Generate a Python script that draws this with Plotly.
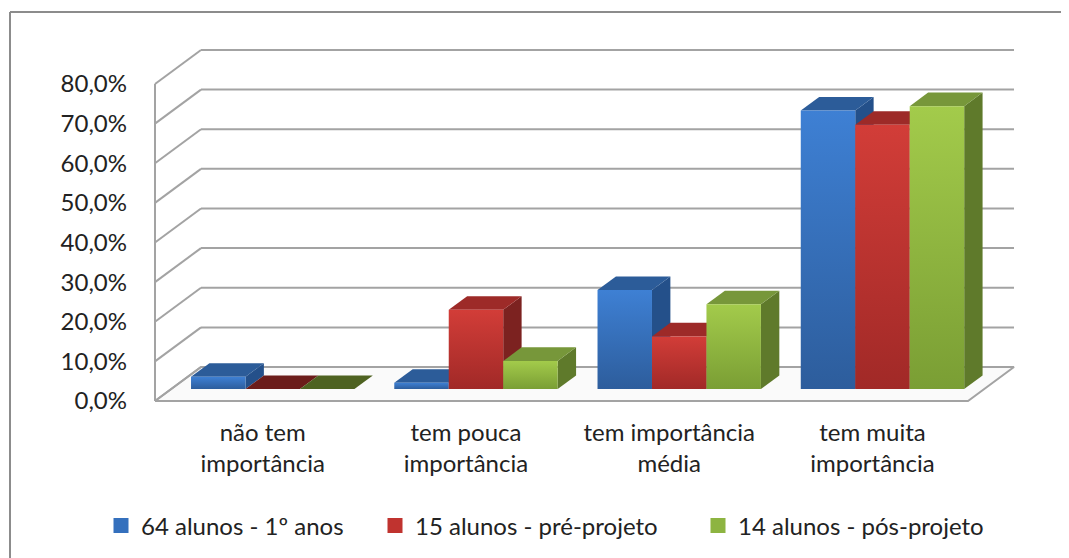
import plotly.graph_objects as go

# ---------------- data ----------------
categories = ["não tem<br>importância", "tem pouca<br>importância",
              "tem importância<br>média", "tem muita<br>importância"]
series_names = ["64 alunos - 1º anos", "15 alunos - pré-projeto", "14 alunos - pós-projeto"]
blue_values = [3.1, 1.6, 25.0, 70.3]
red_values = [0.0, 20.0, 13.3, 66.7]
green_values = [0.0, 7.1, 21.4, 71.4]
y_ticks = [0, 10, 20, 30, 40, 50, 60, 70, 80]
y_tick_labels = ["0,0%", "10,0%", "20,0%", "30,0%", "40,0%", "50,0%", "60,0%", "70,0%", "80,0%"]

# ---------------- style / geometry ----------------
W, H = 1069, 558
PAGE_OFF = 8             # page body margin of the rendered html
FONT = "Lato, 'Liberation Sans', sans-serif"
TEXT_COLOR = "#222222"
GRID = "#A3A3A3"

PX_CAT = 203.25          # pixels per category on the front plane
PX_PCT = 3.9625          # pixels per percent
DX = 46 / PX_CAT         # depth offset (x, data units)
DY = 34 / PX_PCT         # depth offset (y, data units)
X0, X1 = -0.5, 3.5
PAD = 3
x_range = [X0 - PAD / PX_CAT, X1 + DX + PAD / PX_CAT]
y_range = [0 - PAD / PX_PCT, 80 + DY + PAD / PX_PCT]
ML = 155 - PAGE_OFF - PAD
MT = 50 - PAGE_OFF - PAD
plot_w = (x_range[1] - x_range[0]) * PX_CAT
plot_h = (y_range[1] - y_range[0]) * PX_PCT
MR = W - ML - plot_w
MB = H - MT - plot_h

BAR_W = 0.268
T_FRONT, T_BACK = 0.35, 0.75

styles = [
    dict(light="#3E80D4", dark="#2D5D9C", top="#2C5C99", side="#24508A", flat="#2C5C99", legend="#3470BD"),
    dict(light="#D23D38", dark="#A12927", top="#9D2A28", side="#7C2220", flat="#6B1C1A", legend="#C0332F"),
    dict(light="#A3CB4B", dark="#7A9E34", top="#77973A", side="#5F7A2B", flat="#4E6221", legend="#8DB441"),
]
values_by_series = [blue_values, red_values, green_values]


def proj(x, v, t):
    return x + t * DX, v + t * DY


def poly(pts):
    xs = [p[0] for p in pts] + [pts[0][0]]
    ys = [p[1] for p in pts] + [pts[0][1]]
    return xs, ys


fig = go.Figure()

# floor
fx, fy = poly([proj(X0, 0, 0), proj(X1, 0, 0), proj(X1, 0, 1), proj(X0, 0, 1)])
fig.add_trace(go.Scatter(x=fx, y=fy, mode="lines", fill="toself", fillcolor="#FAFAFA",
                         line=dict(color=GRID, width=2), hoverinfo="skip", showlegend=False))

# back wall gridlines + left wall diagonals + front axis
gx, gy = [], []
for v in y_ticks:
    a = proj(X0, v, 1)
    b = proj(X1, v, 1)
    gx += [a[0], b[0], None]
    gy += [a[1], b[1], None]
    c = proj(X0, v, 0)
    gx += [c[0], a[0], None]
    gy += [c[1], a[1], None]
gx += [X0, X0, None]
gy += [0, y_ticks[-1], None]
fig.add_trace(go.Scatter(x=gx, y=gy, mode="lines", line=dict(color=GRID, width=2),
                         hoverinfo="skip", showlegend=False))

# bars
n_series = len(values_by_series)
for c in range(len(categories)):
    for s in range(n_series):
        v = values_by_series[s][c]
        st = styles[s]
        xl = c + (s - n_series / 2) * BAR_W
        xr = xl + BAR_W
        # side face
        if v > 0:
            sx, sy = poly([proj(xr, 0, T_FRONT), proj(xr, 0, T_BACK), proj(xr, v, T_BACK), proj(xr, v, T_FRONT)])
            fig.add_trace(go.Scatter(x=sx, y=sy, mode="lines", fill="toself", fillcolor=st["side"],
                                     line=dict(width=0), hoverinfo="skip", showlegend=False))
        # top face
        tx, ty = poly([proj(xl, v, T_FRONT), proj(xr, v, T_FRONT), proj(xr, v, T_BACK), proj(xl, v, T_BACK)])
        fig.add_trace(go.Scatter(x=tx, y=ty, mode="lines", fill="toself",
                                 fillcolor=st["top"] if v > 0 else st["flat"],
                                 line=dict(width=0), hoverinfo="skip", showlegend=False))
        # front face
        if v > 0:
            px_, py_ = poly([proj(xl, 0, T_FRONT), proj(xr, 0, T_FRONT), proj(xr, v, T_FRONT), proj(xl, v, T_FRONT)])
            fig.add_trace(go.Scatter(x=px_, y=py_, mode="lines", fill="toself",
                                     fillgradient=dict(type="vertical",
                                                       colorscale=[[0, st["dark"]], [1, st["light"]]]),
                                     line=dict(width=0), name=series_names[s],
                                     hovertemplate=f"{series_names[s]}: {v:.1f}%<extra></extra>",
                                     showlegend=False))

# legend-only entries (three separately placed legends)
legend_keys = ["legend", "legend2", "legend3"]
legend_px = [93, 367, 690]
for s in range(n_series):
    fig.add_trace(go.Scatter(x=[None], y=[None], mode="markers", name=series_names[s],
                             marker=dict(symbol="square", size=15, color=styles[s]["legend"],
                                         line=dict(width=0)),
                             legend=legend_keys[s], showlegend=True))

legend_common = dict(orientation="h", xref="container", yref="container",
                     xanchor="left", yanchor="middle", bgcolor="rgba(0,0,0,0)",
                     font=dict(family=FONT, size=24, color=TEXT_COLOR), itemsizing="trace")

layout_legends = {}
for k, pxl in zip(legend_keys, legend_px):
    layout_legends[k] = dict(legend_common, x=pxl / W, y=1 - (526 - PAGE_OFF) / H)


def paper_x(px):
    return (px - PAGE_OFF - ML) / plot_w


def paper_y(py):
    return 1 - (py - PAGE_OFF - MT) / plot_h


# chart border (top and left)
shapes = [
    dict(type="line", xref="paper", yref="paper", x0=paper_x(10), x1=paper_x(W + 20),
         y0=paper_y(12), y1=paper_y(12), line=dict(color="#8C8C8C", width=2)),
    dict(type="line", xref="paper", yref="paper", x0=paper_x(10), x1=paper_x(10),
         y0=paper_y(12), y1=paper_y(H + 20), line=dict(color="#8C8C8C", width=2)),
]

fig.update_layout(
    width=W, height=H,
    margin=dict(l=ML, r=MR, t=MT, b=MB, autoexpand=False),
    paper_bgcolor="white", plot_bgcolor="white",
    font=dict(family=FONT, size=24, color=TEXT_COLOR),
    separators=",.",
    shapes=shapes,
    **layout_legends,
)
fig.update_xaxes(range=x_range, showgrid=False, zeroline=False, showline=False,
                 tickmode="array", tickvals=[i + 0.03 for i in range(len(categories))],
                 ticktext=categories, ticks="", ticklabelstandoff=12,
                 tickfont=dict(family=FONT, size=24, color=TEXT_COLOR), fixedrange=True)
fig.update_yaxes(range=y_range, showgrid=False, zeroline=False, showline=False,
                 tickmode="array", tickvals=y_ticks, ticktext=y_tick_labels,
                 ticks="", ticklabelstandoff=24,
                 tickfont=dict(family=FONT, size=24, color=TEXT_COLOR), fixedrange=True)

fig.write_html("out.html")
